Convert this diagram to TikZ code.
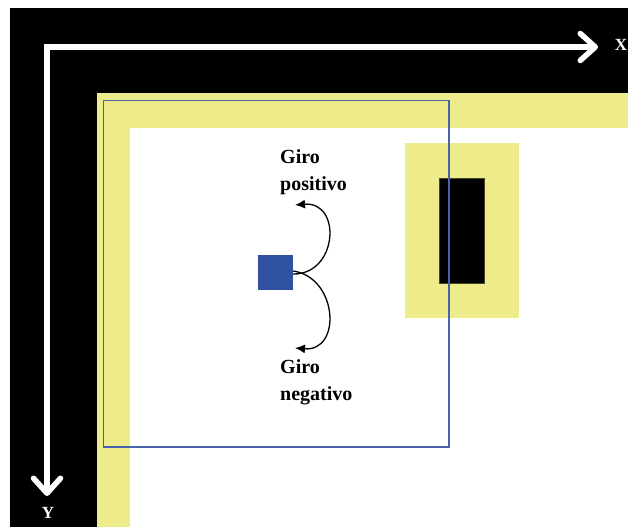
\documentclass[tikz,border=0pt]{standalone}
\usepackage{fontspec}
\setmainfont{Liberation Serif}
\usepackage{xcolor}
\usepackage{tikz}
\usetikzlibrary{calc, arrows.meta, positioning}

\definecolor{amarillo}{RGB}{238,235,138}
\definecolor{azulcubo}{RGB}{48,80,162}
\definecolor{azulmarco}{RGB}{72,98,172}

\begin{document}
\begin{tikzpicture}[x=1pt, y=-1pt, >=latex,
    eje/.style={white, line width=5.5pt, line join=miter,
        {Straight Barb[length=15pt, width=27pt, round]}-{Straight Barb[length=15pt, width=27pt, round]}},
    giro/.style={black, line width=1.3pt, -{Latex[length=10pt, width=9pt]}},
    rotulo/.style={font=\bfseries\fontsize{20}{27}\selectfont, align=left, inner sep=0pt}]
    \useasboundingbox (0,0) rectangle (628,527);

    % Fondo: zonas negra, amarilla y blanca
    \fill[white] (0,0) rectangle (628,527);
    \fill[black] (10,8) rectangle (628,527);
    \fill[amarillo] (97,93) rectangle (628,527);
    \fill[white] (130,128) rectangle (628,527);

    % Ejes X e Y
    \coordinate (O) at (47,47);
    \coordinate (xfin) at (598,47);
    \coordinate (yfin) at (47,496);
    \draw[eje] (yfin) -- (O) -- (xfin);
    \node[white, font=\bfseries\fontsize{17}{17}\selectfont] (X) at (621,45) {X};
    \node[white, font=\bfseries\fontsize{17}{17}\selectfont] (Y) at (48,513) {Y};

    % Obstaculo
    \fill[amarillo] (405,143) rectangle (519,318);
    \draw[fill=black, draw=black!70!amarillo, line width=0.6pt] (439,178) rectangle (484,283);

    % Cubo y giros
    \node[fill=azulcubo, minimum size=35pt, inner sep=0pt] (cubo) at (275.5,272.5) {};
    \node[rotulo, anchor=west] (pos) at (280,172) {Giro\\positivo};
    \node[rotulo, anchor=west] (neg) at (280,382) {Giro\\negativo};
    \coordinate (ppos) at (295,205);
    \coordinate (pneg) at (295,348);
    \draw[giro] ([yshift=-1.5pt]cubo.east) .. controls (338,274.5) and (342,201) .. (ppos);
    \draw[giro] ([yshift=1.5pt]cubo.east) .. controls (338,277.5) and (342,352) .. (pneg);

    % Marco azul
    \draw[azulmarco, line width=1.4pt] (103.5,100.5) rectangle (449,447);
\end{tikzpicture}
\end{document}
